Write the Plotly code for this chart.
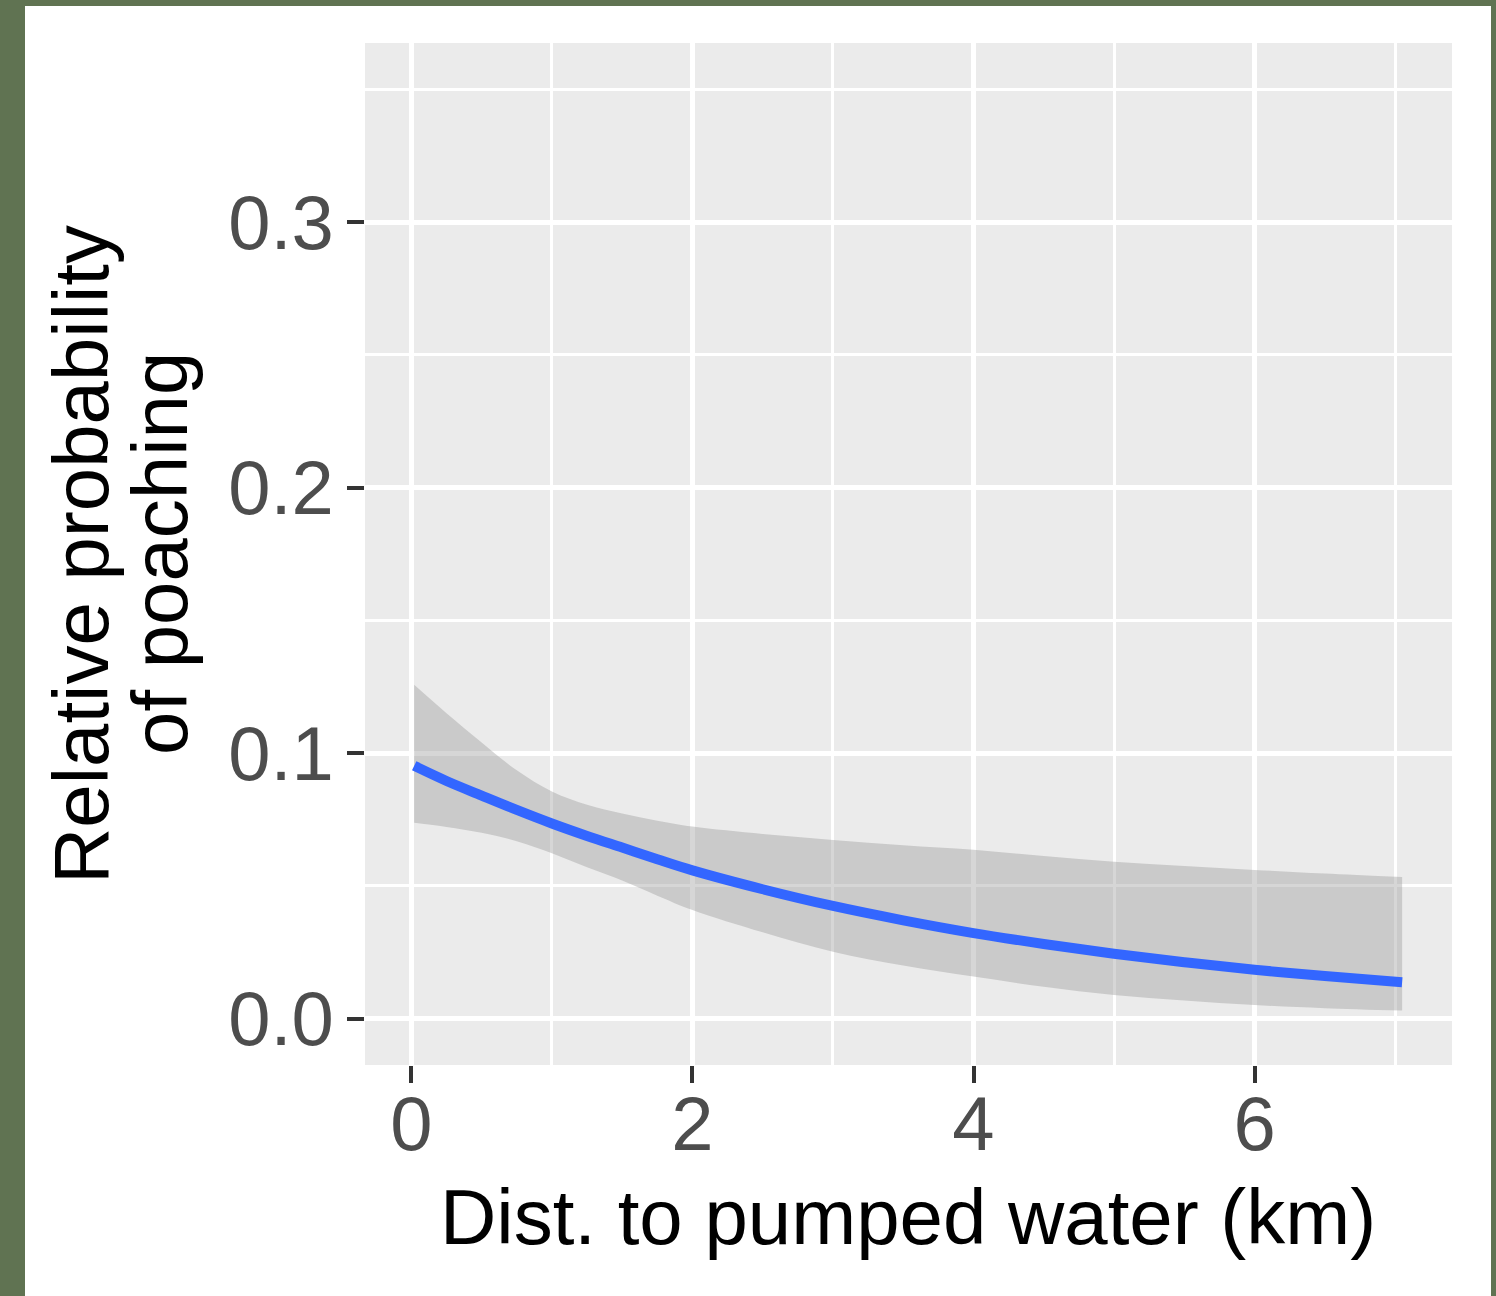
import plotly.graph_objects as go

# Data
dist_km = [0.02, 0.25, 0.5, 0.75, 1.0, 1.25, 1.5, 1.75, 2.0, 2.5, 3.0, 3.5, 4.0, 4.5, 5.0, 5.5, 6.0, 6.5, 7.05]
fit = [0.0952, 0.0895, 0.0840, 0.0786, 0.0735, 0.0688, 0.0644, 0.0600, 0.0558, 0.0487, 0.0424,
       0.0370, 0.0322, 0.0281, 0.0244, 0.0212, 0.0184, 0.0160, 0.0137]
upper = [0.1257, 0.1150, 0.1040, 0.0935, 0.0855, 0.0805, 0.0772, 0.0745, 0.0723, 0.0695, 0.0673,
         0.0653, 0.0636, 0.0612, 0.0591, 0.0575, 0.0560, 0.0546, 0.0533]
lower = [0.0738, 0.0722, 0.0700, 0.0668, 0.0623, 0.0570, 0.0520, 0.0463, 0.0409, 0.0325, 0.0252,
         0.0200, 0.0158, 0.0120, 0.0089, 0.0068, 0.0051, 0.0039, 0.0030]

x_ticks = [0, 2, 4, 6]
x_tick_labels = ["0", "2", "4", "6"]
y_ticks = [0.0, 0.1, 0.2, 0.3]
y_tick_labels = ["0.0", "0.1", "0.2", "0.3"]

x_title = "Dist. to pumped water (km)"
y_title_lines = ["Relative probability", "of poaching"]

W, H = 1496, 1296
L, R, T, B = 365, 44, 43, 231
PW, PH = W - L - R, H - T - B

def px_x(p):
    return (p - L) / PW

def px_y(p):
    return (H - B - p) / PH

FONT = "Liberation Sans, Arial, sans-serif"
GREEN = "#607352"

fig = go.Figure()
fig.add_trace(go.Scatter(x=dist_km, y=lower, mode="lines", line=dict(width=0, shape="spline"),
                         showlegend=False, hoverinfo="skip"))
fig.add_trace(go.Scatter(x=dist_km, y=upper, mode="lines", line=dict(width=0, shape="spline"),
                         fill="tonexty", fillcolor="rgba(153,153,153,0.4)",
                         showlegend=False, hoverinfo="skip"))
fig.add_trace(go.Scatter(x=dist_km, y=fit, mode="lines",
                         line=dict(color="#3366FF", width=10, shape="spline"),
                         showlegend=False))

fig.update_layout(
    width=W, height=H,
    margin=dict(l=L, r=R, t=T, b=B),
    paper_bgcolor="white",
    plot_bgcolor="#EBEBEB",
    font=dict(family=FONT),
    xaxis=dict(
        range=[-0.33, 7.405], tickvals=x_ticks, ticktext=x_tick_labels,
        showgrid=True, gridcolor="white", gridwidth=5, zeroline=False, showline=False,
        ticks="outside", ticklen=17, tickwidth=4, tickcolor="#333333",
        tickfont=dict(size=76, color="#4D4D4D", family=FONT), ticklabelstandoff=-24,
        minor=dict(dtick=1, tick0=1, showgrid=True, gridcolor="white", gridwidth=2.5, ticks=""),
    ),
    yaxis=dict(
        range=[-0.0175, 0.3675], tickvals=y_ticks, ticktext=y_tick_labels,
        showgrid=True, gridcolor="white", gridwidth=5, zeroline=False, showline=False,
        ticks="outside", ticklen=17, tickwidth=4, tickcolor="#333333",
        tickfont=dict(size=76, color="#4D4D4D", family=FONT), ticklabelstandoff=-2,
        minor=dict(dtick=0.05, tick0=0.05, showgrid=True, gridcolor="white", gridwidth=2.5, ticks=""),
    ),
    annotations=[
        dict(text=x_title, xref="paper", yref="paper", x=px_x(908), y=px_y(1217),
             xanchor="center", yanchor="middle", showarrow=False,
             font=dict(size=78, color="black", family=FONT)),
        dict(text=y_title_lines[0], xref="paper", yref="paper", x=px_x(81), y=0.5,
             xanchor="center", yanchor="middle", textangle=-90, showarrow=False,
             font=dict(size=78, color="black", family=FONT)),
        dict(text=y_title_lines[1], xref="paper", yref="paper", x=px_x(160), y=0.5,
             xanchor="center", yanchor="middle", textangle=-90, showarrow=False,
             font=dict(size=78, color="black", family=FONT)),
    ],
    shapes=[
        dict(type="rect", xref="paper", yref="paper", x0=px_x(0), x1=px_x(25), y0=px_y(H), y1=px_y(0),
             fillcolor=GREEN, line=dict(width=0), layer="above"),
        dict(type="rect", xref="paper", yref="paper", x0=px_x(0), x1=px_x(W), y0=px_y(6), y1=px_y(0),
             fillcolor=GREEN, line=dict(width=0), layer="above"),
        dict(type="rect", xref="paper", yref="paper", x0=px_x(1491), x1=px_x(W), y0=px_y(H), y1=px_y(0),
             fillcolor=GREEN, line=dict(width=0), layer="above"),
    ],
)

fig.write_html("out.html", config={"displayModeBar": False},
               post_script="document.body.style.margin='0';document.body.style.overflow='hidden';")
